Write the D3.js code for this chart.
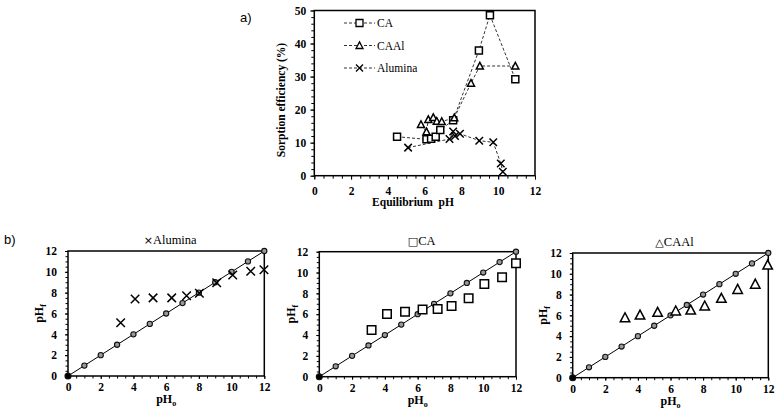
<!DOCTYPE html>
<html><head><meta charset="utf-8">
<script src="https://cdn.jsdelivr.net/npm/d3@7"></script>
<style>body{margin:0;background:#fff}svg{display:block}</style>
</head><body>
<script>
// ---- Panel a) data: equilibrium pH vs sorption efficiency (%)
const caPH   = [4.5, 6.1, 6.35, 6.6, 6.85, 7.55, 8.95, 9.55, 10.93];
const caEff  = [11.8, 11.0, 11.2, 11.8, 13.8, 16.8, 37.9, 48.6, 29.2];
const caalPH  = [5.8, 6.1, 6.2, 6.47, 6.66, 6.93, 7.61, 8.52, 9.0, 10.93];
const caalEff = [15.5, 13.3, 17.0, 17.6, 16.5, 16.4, 17.5, 28.0, 33.2, 33.2];
const aluPH  = [5.1, 7.35, 7.55, 7.65, 7.92, 8.97, 9.73, 10.14, 10.25];
const aluEff = [8.5, 11.1, 13.4, 12.0, 12.7, 10.6, 10.1, 3.7, 1.2];
const topXTicks = [0, 2, 4, 6, 8, 10, 12];
const topYTicks = [0, 10, 20, 30, 40, 50];

// ---- Panel b) data: initial pH (pHo) vs final pH (pHf)
const diagPH = [0,1,2,3,4,5,6,7,8,9,10,11,12];
const aluPH0 = [3.22, 4.1, 5.2, 6.34, 7.25, 8.03, 9.09, 10.07, 11.17, 11.98];
const aluPHf = [5.12, 7.4, 7.5, 7.5, 7.7, 7.94, 8.96, 9.7, 10.05, 10.2];
const caPH0  = [3.19, 4.13, 5.23, 6.3, 7.22, 8.07, 9.11, 10.07, 11.15, 12.0];
const caPHf  = [4.48, 6.02, 6.24, 6.46, 6.5, 6.78, 7.52, 8.9, 9.54, 10.88];
const caalPH0 = [3.21, 4.13, 5.21, 6.32, 7.24, 8.1, 9.12, 10.12, 11.2, 11.96];
const caalPHf = [5.77, 6.03, 6.29, 6.42, 6.51, 6.9, 7.64, 8.5, 9.0, 10.84];
const bTicks = [0, 2, 4, 6, 8, 10, 12];
const panelTitles = ["Alumina", "CA", "CAAl"];

const W = 777, H = 411;
const serif = "'Liberation Serif','Times New Roman',serif";
const sans = "'Liberation Sans',Arial,sans-serif";
const svg = d3.select("body").append("svg").attr("width", W).attr("height", H);

function markerPath(type, s) {
  const h = s / 2;
  if (type === "square") return `M${-h},${-h}H${h}V${h}H${-h}Z`;
  if (type === "triangle") return `M0,${-h*1.05}L${h},${h*0.85}L${-h},${h*0.85}Z`;
  if (type === "x") return `M${-h},${-h}L${h},${h}M${-h},${h}L${h},${-h}`;
}

function drawMarkers(g, xs, ys, x, y, type, size, sw) {
  g.selectAll(null).data(xs.map((v, i) => [v, ys[i]])).enter().append("path")
    .attr("transform", d => `translate(${x(d[0])},${y(d[1])})`)
    .attr("d", markerPath(type, size))
    .attr("fill", type === "x" ? "none" : "#fff")
    .attr("stroke", "#000").attr("stroke-width", sw);
}

function styleAxis(g, size, bold) {
  g.selectAll("text").attr("font-family", serif).attr("font-size", size)
    .attr("font-weight", bold ? "bold" : "normal").attr("fill", "#000");
  g.select(".domain").remove();
  g.selectAll(".tick line").attr("stroke", "#000").attr("stroke-width", 1);
}

// ================= Panel a =================
{
  const L = 314.3, R = 535, T = 10.5, B = 175.7;
  const x = d3.scaleLinear().domain([0, 12]).range([L, R]);
  const y = d3.scaleLinear().domain([0, 50]).range([B, T]);
  const g = svg.append("g");

  // minor ticks
  g.append("g").attr("transform", `translate(0,${B})`)
    .call(d3.axisBottom(x).tickValues(d3.range(0, 12.01, 0.5)).tickSize(3).tickFormat(""))
    .call(a => styleAxis(a, 11, true));
  g.append("g").attr("transform", `translate(${L},0)`)
    .call(d3.axisLeft(y).tickValues(d3.range(0, 50.01, 2)).tickSize(3).tickFormat(""))
    .call(a => styleAxis(a, 11, true));
  // major ticks with labels
  g.append("g").attr("transform", `translate(0,${B})`)
    .call(d3.axisBottom(x).tickValues(topXTicks).tickSize(4).tickPadding(7).tickFormat(d3.format("d")))
    .call(a => styleAxis(a, 11.5, true));
  g.append("g").attr("transform", `translate(${L},0)`)
    .call(d3.axisLeft(y).tickValues(topYTicks).tickSize(4).tickPadding(4).tickFormat(d3.format("d")))
    .call(a => styleAxis(a, 11.5, true));

  g.append("rect").attr("x", L).attr("y", T).attr("width", R - L).attr("height", B - T)
    .attr("fill", "none").attr("stroke", "#000").attr("stroke-width", 1.5);

  const line = d3.line().x(d => x(d[0])).y(d => y(d[1]));
  const series = [
    {xs: caPH, ys: caEff, type: "square", name: "CA"},
    {xs: caalPH, ys: caalEff, type: "triangle", name: "CAAl"},
    {xs: aluPH, ys: aluEff, type: "x", name: "Alumina"}
  ];
  series.forEach(s => {
    g.append("path").datum(s.xs.map((v, i) => [v, s.ys[i]])).attr("d", line)
      .attr("fill", "none").attr("stroke", "#333").attr("stroke-width", 1).attr("stroke-dasharray", "3,2");
  });
  series.forEach(s => drawMarkers(g, s.xs, s.ys, x, y, s.type, s.type === "x" ? 7.5 : 7, 1.5));

  // legend
  const leg = g.append("g");
  series.forEach((s, i) => {
    const ly = 23 + i * 22.5;
    leg.append("line").attr("x1", 344).attr("x2", 375).attr("y1", ly).attr("y2", ly)
      .attr("stroke", "#333").attr("stroke-width", 1).attr("stroke-dasharray", "3,2");
    leg.append("path").attr("transform", `translate(359.5,${ly})`).attr("d", markerPath(s.type, 7))
      .attr("fill", s.type === "x" ? "none" : "#fff").attr("stroke", "#000").attr("stroke-width", 1.3);
    leg.append("text").attr("x", 377).attr("y", ly + 4).text(s.name)
      .attr("font-family", serif).attr("font-size", 11.5);
  });

  g.append("text").attr("x", 413).attr("y", 206).attr("text-anchor", "middle")
    .attr("font-family", serif).attr("font-weight", "bold").attr("font-size", 11.5)
    .attr("xml:space", "preserve").text("Equilibrium  pH");
  g.append("text").attr("transform", "translate(285,100) rotate(-90)").attr("text-anchor", "middle")
    .attr("font-family", serif).attr("font-weight", "bold").attr("font-size", 11.5)
    .text("Sorption efficiency (%)");
  svg.append("text").attr("x", 240).attr("y", 22).text("a)")
    .attr("font-family", sans).attr("font-size", 13);
}

// ================= Panel b =================
svg.append("text").attr("x", 4).attr("y", 244).text("b)")
  .attr("font-family", sans).attr("font-size", 13);

const panels = [
  {L: 68, R: 264.3, T: 251, B: 376, xs: aluPH0, ys: aluPHf, type: "x", sym: "\u00D7", ylx: 43},
  {L: 319.3, R: 516, T: 251.7, B: 376.7, xs: caPH0, ys: caPHf, type: "square", sym: "\u25A1", ylx: 295},
  {L: 572.7, R: 768.3, T: 253, B: 377.7, xs: caalPH0, ys: caalPHf, type: "triangle", sym: "\u25B3", ylx: 547}
];

panels.forEach((p, pi) => {
  const x = d3.scaleLinear().domain([0, 12]).range([p.L, p.R]);
  const y = d3.scaleLinear().domain([0, 12]).range([p.B, p.T]);
  const g = svg.append("g");

  g.append("g").attr("transform", `translate(0,${p.B})`)
    .call(d3.axisBottom(x).tickValues(d3.range(0, 12.01, 0.5)).tickSize(2.5).tickFormat(""))
    .call(a => styleAxis(a, 11, true));
  g.append("g").attr("transform", `translate(${p.L},0)`)
    .call(d3.axisLeft(y).tickValues(d3.range(0, 12.01, 0.5)).tickSize(2.5).tickFormat(""))
    .call(a => styleAxis(a, 11, true));
  g.append("g").attr("transform", `translate(0,${p.B})`)
    .call(d3.axisBottom(x).tickValues(bTicks).tickSize(3).tickPadding(4).tickFormat(d3.format("d")))
    .call(a => styleAxis(a, 11.5, true));
  g.append("g").attr("transform", `translate(${p.L},0)`)
    .call(d3.axisLeft(y).tickValues(bTicks).tickSize(3).tickPadding(8).tickFormat(d3.format("d")))
    .call(a => styleAxis(a, 11.5, true));

  g.append("rect").attr("x", p.L).attr("y", p.T).attr("width", p.R - p.L).attr("height", p.B - p.T)
    .attr("fill", "none").attr("stroke", "#000").attr("stroke-width", 1.5);

  // 1:1 line with circles
  g.append("path").datum(diagPH.map(v => [v, v]))
    .attr("d", d3.line().x(d => x(d[0])).y(d => y(d[1])))
    .attr("stroke", "#000").attr("stroke-width", 1).attr("fill", "none");
  g.selectAll(null).data(diagPH).enter().append("circle")
    .attr("cx", d => x(d)).attr("cy", d => y(d)).attr("r", d => d === 0 ? 3 : 2.6)
    .attr("fill", d => d === 0 ? "#000" : "#999").attr("stroke", "#111").attr("stroke-width", 1.1);

  drawMarkers(g, p.xs, p.ys, x, y, p.type, p.type === "triangle" ? 9.5 : 8.5, 1.5);

  const cx = (p.L + p.R) / 2;
  const t = g.append("text").attr("x", cx + 4).attr("y", p.T - 7).attr("text-anchor", "middle")
    .attr("font-family", serif).attr("font-size", 12.5);
  t.append("tspan").text(p.sym).attr("font-family", "'DejaVu Sans',sans-serif").attr("font-size", 11);
  t.append("tspan").text(panelTitles[pi]);

  const xl = g.append("text").attr("x", cx).attr("y", p.B + 27).attr("text-anchor", "middle")
    .attr("font-family", serif).attr("font-weight", "bold").attr("font-size", 12);
  xl.append("tspan").text("pH");
  xl.append("tspan").text("o").attr("font-size", 8).attr("dy", 3);

  const yl = g.append("text").attr("transform", `translate(${p.ylx},${(p.T + p.B) / 2}) rotate(-90)`)
    .attr("text-anchor", "middle")
    .attr("font-family", serif).attr("font-weight", "bold").attr("font-size", 12);
  yl.append("tspan").text("pH");
  yl.append("tspan").text("f").attr("font-size", 8).attr("dy", 3);
});
</script>
</body></html>
